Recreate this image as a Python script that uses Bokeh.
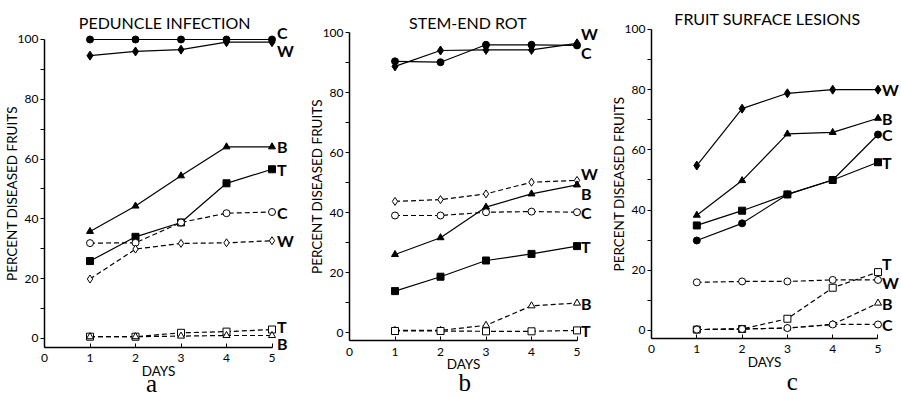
from bokeh.plotting import figure
from bokeh.layouts import row
from bokeh.models import FixedTicker
from bokeh.core.properties import value
from bokeh.embed import file_html
from bokeh.resources import INLINE

days = [1, 2, 3, 4, 5]
x_ticks = [0, 1, 2, 3, 4, 5]
y_ticks = [0, 20, 40, 60, 80, 100]
y_minor = [10, 30, 50, 70, 90]

# ---- a: Peduncle infection ----
ped_C_solid = [100, 100, 100, 100, 100]
ped_W_solid = [94.6, 96.0, 96.6, 99.1, 99.1]
ped_B_solid = [35.8, 44.3, 54.4, 64.1, 64.1]
ped_T_solid = [25.9, 34.0, 38.8, 51.9, 56.6]
ped_C_open = [31.9, 32.0, 38.8, 41.9, 42.3]
ped_W_open = [19.9, 29.9, 31.8, 32.0, 32.7]
ped_T_open = [0.6, 0.6, 1.9, 2.3, 3.0]
ped_B_open = [0.6, 0.6, 0.8, 1.0, 1.0]

# ---- b: Stem-end rot ----
sem_W_solid = [88.7, 94.0, 94.2, 94.2, 96.4]
sem_C_solid = [90.4, 90.1, 95.9, 95.9, 95.7]
sem_W_open = [43.7, 44.3, 46.2, 50.1, 50.7]
sem_B_solid = [26.0, 31.6, 41.8, 46.2, 49.2]
sem_C_open = [39.0, 39.0, 40.1, 40.3, 40.1]
sem_T_solid = [13.8, 18.6, 24.0, 26.2, 28.8]
sem_B_open = [0.7, 0.7, 2.4, 8.9, 9.8]
sem_T_open = [0.5, 0.5, 0.4, 0.4, 0.7]

# ---- c: Fruit surface lesions ----
fsl_W_solid = [54.8, 73.7, 78.8, 80.0, 80.0]
fsl_B_solid = [38.3, 49.8, 65.3, 65.8, 70.5]
fsl_C_solid = [29.9, 35.6, 45.2, 50.0, 65.1]
fsl_T_solid = [34.9, 39.8, 45.2, 50.0, 55.9]
fsl_T_open = [0.3, 0.5, 3.9, 14.2, 19.4]
fsl_W_open = [16.0, 16.3, 16.3, 16.8, 16.8]
fsl_B_open = [0.3, 0.5, 0.8, 2.0, 9.1]
fsl_C_open = [0.3, 0.5, 0.8, 2.0, 2.0]

FONT = "Lato"
MARK = {"C": "circle", "W": "diamond", "B": "triangle", "T": "square"}
FIG_H = 396


def make_panel(title, series, width, x_range, y_range, axis_y, title_pos,
               letter, letter_pos, nudges, open_marks=None, lab_dx=5):
    p = figure(width=width, height=FIG_H, x_range=x_range, y_range=y_range,
               output_backend="svg", toolbar_location=None,
               min_border_left=0, min_border_right=0,
               min_border_top=0, min_border_bottom=0)
    p.outline_line_color = None
    p.grid.visible = False

    # axes placed inside the frame at fixed data locations
    p.xaxis.fixed_location = axis_y
    p.yaxis.fixed_location = 0
    p.xaxis.bounds = (0, 5)
    p.xaxis.ticker = FixedTicker(ticks=x_ticks)
    p.xaxis.major_tick_in = 4
    p.xaxis.major_tick_out = 0
    p.xaxis.major_label_standoff = 7
    p.xaxis.axis_label = "DAYS"
    p.xaxis.axis_label_standoff = -3
    p.yaxis.bounds = (axis_y, 100)
    p.yaxis.ticker = FixedTicker(ticks=y_ticks, minor_ticks=y_minor)
    p.yaxis.major_tick_in = 0
    p.yaxis.major_tick_out = 4
    p.yaxis.minor_tick_in = 0
    p.yaxis.minor_tick_out = 4
    p.yaxis.major_label_standoff = 2
    p.yaxis.axis_label = "PERCENT DISEASED FRUITS"
    p.yaxis.axis_label_standoff = -5
    for ax in (p.xaxis[0], p.yaxis[0]):
        ax.axis_line_width = 1.5
        ax.axis_line_color = "black"
        ax.major_tick_line_color = "black"
        ax.major_label_text_font = FONT
        ax.major_label_text_font_size = "12px"
        ax.major_label_text_color = "black"
        ax.axis_label_text_font = FONT
        ax.axis_label_text_font_size = "13.5px"
        ax.axis_label_text_font_style = "normal"
        ax.axis_label_text_color = "black"
    p.xaxis.minor_tick_line_color = None
    p.yaxis.minor_tick_line_color = "black"

    # lines first
    for key, vals, solid in series:
        p.line(days, vals, line_color="black", line_width=1.2,
               line_dash="solid" if solid else "5 3")
    # markers + labels
    for key, vals, solid in series:
        m = MARK[key]
        if not solid and open_marks and key in open_marks:
            m = open_marks[key]
        if solid:
            p.scatter(days, vals, marker=m, size=7 if m != "diamond" else 9,
                      fill_color="black", line_color="black")
        else:
            p.scatter(days, vals, marker=m, size=7 if m != "diamond" else 8,
                      fill_color="white", line_color="black", line_width=1)
        dy = nudges.get((key, solid), 0)
        p.text(x=[5], y=[vals[-1]], text=[key], x_offset=lab_dx, y_offset=dy,
               text_font=value(FONT), text_font_style="bold", text_font_size="16px",
               text_baseline="middle", text_align="left", text_color="black")

    p.text(x=[title_pos[0]], y=[title_pos[1]], text=[title],
           text_font=value(FONT), text_font_size="16px", text_align="center",
           text_baseline="middle", text_color="black")
    p.text(x=[letter_pos[0]], y=[letter_pos[1]], text=[letter],
           text_font=value("Liberation Serif"), text_font_size="25px",
           text_align="center", text_baseline="middle", text_color="black")
    return p


pa = make_panel(
    "PEDUNCLE INFECTION",
    [("C", ped_C_solid, True), ("W", ped_W_solid, True), ("B", ped_B_solid, True),
     ("T", ped_T_solid, True), ("C", ped_C_open, False), ("W", ped_W_open, False),
     ("T", ped_T_open, False), ("B", ped_B_open, False)],
    width=300, x_range=(-0.967, 5.626), y_range=(-19.4, 113.04), axis_y=-3,
    title_pos=(2.64, 105.7), letter="a", letter_pos=(2.35, -15.2),
    nudges={("C", True): -7, ("W", True): 8, ("T", False): -3, ("B", False): 8},
)

pb = make_panel(
    "STEM-END ROT",
    [("W", sem_W_solid, True), ("C", sem_C_solid, True), ("W", sem_W_open, False),
     ("B", sem_B_solid, True), ("C", sem_C_open, False), ("T", sem_T_solid, True),
     ("B", sem_B_open, False), ("T", sem_T_open, False)],
    width=300, x_range=(-1.077, 5.516), y_range=(-21.33, 110.67), axis_y=-2.67,
    title_pos=(2.6, 103.3), letter="b", letter_pos=(2.53, -16.7),
    nudges={("W", True): -10, ("C", True): 7, ("W", False): -7, ("B", True): 9},
    lab_dx=4,
)

pc = make_panel(
    "FRUIT SURFACE LESIONS",
    [("W", fsl_W_solid, True), ("B", fsl_B_solid, True), ("C", fsl_C_solid, True),
     ("T", fsl_T_solid, True), ("T", fsl_T_open, False), ("W", fsl_W_open, False),
     ("B", fsl_B_open, False), ("C", fsl_C_open, False)],
    width=300, x_range=(-1.126, 5.497), y_range=(-21.93, 109.63), axis_y=-2.66,
    title_pos=(2.56, 103.7), letter="c", letter_pos=(3.11, -16.9),
    nudges={("T", False): -9, ("W", False): 3},
    open_marks={"W": "circle"}, lab_dx=4,
)

layout = row(pa, pb, pc)
open("out.html", "w").write(file_html(layout, INLINE))
